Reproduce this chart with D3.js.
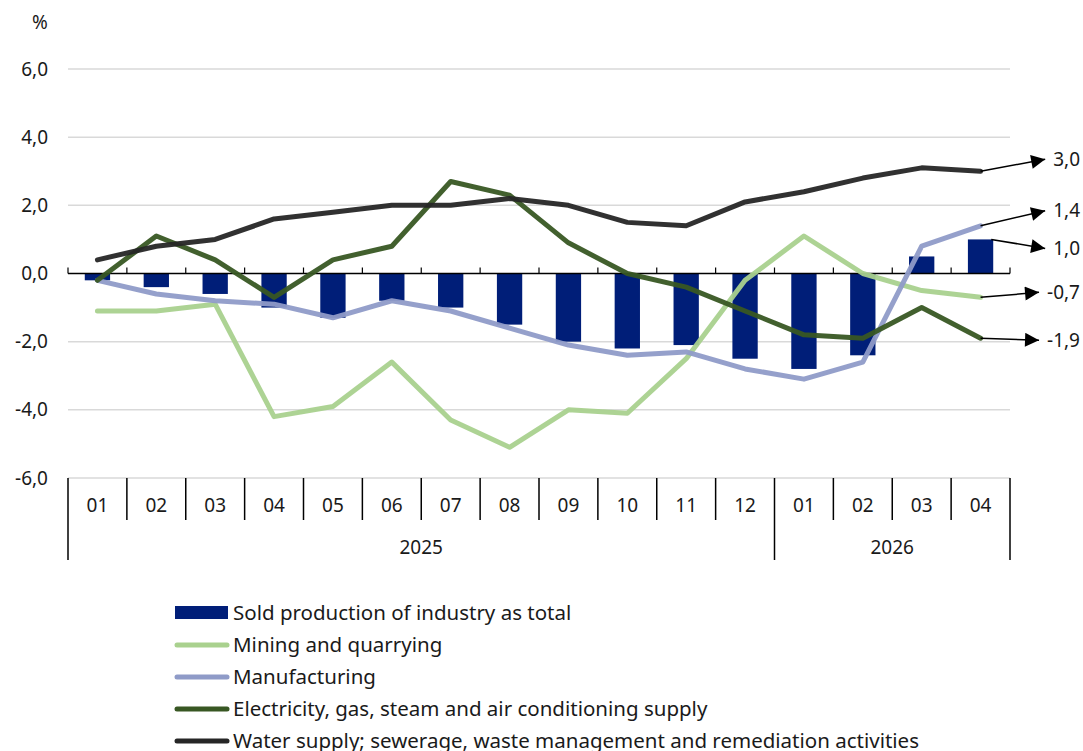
<!DOCTYPE html>
<html>
<head>
<meta charset="utf-8">
<script src="https://cdn.jsdelivr.net/npm/d3@7"></script>
<style>
  body { margin: 0; background: #fff; }
  svg text { font-family: "Noto Sans", sans-serif; fill: #1a1a1a; }
</style>
</head>
<body>
<script>
const months = ['01','02','03','04','05','06','07','08','09','10','11','12','01','02','03','04'];
const years = [{ label: '2025', from: 0, to: 11 }, { label: '2026', from: 12, to: 15 }];
const yTicks = [-6, -4, -2, 0, 2, 4, 6];

const totalProd   = [-0.2, -0.4, -0.6, -1.0, -1.3, -0.8, -1.0, -1.5, -2.0, -2.2, -2.1, -2.5, -2.8, -2.4, 0.5, 1.0];
const mining      = [-1.1, -1.1, -0.9, -4.2, -3.9, -2.6, -4.3, -5.1, -4.0, -4.1, -2.5, -0.2, 1.1, 0.0, -0.5, -0.7];
const manufact    = [-0.2, -0.6, -0.8, -0.9, -1.3, -0.8, -1.1, -1.6, -2.1, -2.4, -2.3, -2.8, -3.1, -2.6, 0.8, 1.4];
const electricity = [-0.2, 1.1, 0.4, -0.7, 0.4, 0.8, 2.7, 2.3, 0.9, 0.0, -0.4, -1.1, -1.8, -1.9, -1.0, -1.9];
const water       = [0.4, 0.8, 1.0, 1.6, 1.8, 2.0, 2.0, 2.2, 2.0, 1.5, 1.4, 2.1, 2.4, 2.8, 3.1, 3.0];

const barName = 'Sold production of industry as total';
const lineSeries = [
  { name: 'Mining and quarrying', values: mining, color: '#a9d18e' },
  { name: 'Manufacturing', values: manufact, color: '#8f9bc8' },
  { name: 'Electricity, gas, steam and air conditioning supply', values: electricity, color: '#385723' },
  { name: 'Water supply; sewerage, waste management and remediation activities', values: water, color: '#262626' }
];
const barColor = '#001e78';

const width = 1083, height = 751;
const plotL = 68, plotR = 1010, plotT = 69, plotB = 478;

const svg = d3.select('body').append('svg')
  .attr('width', width)
  .attr('height', height);

const x = d3.scaleBand().domain(d3.range(months.length)).range([plotL, plotR]).padding(0);
const y = d3.scaleLinear().domain([-6, 6]).range([plotB, plotT]);
const cx = i => x(i) + x.bandwidth() / 2;
const fmt = v => d3.format('.1f')(v).replace('.', ',').replace('−', '-');

// gridlines
svg.append('g').selectAll('line')
  .data(yTicks.filter(d => d !== 0))
  .enter().append('line')
    .attr('x1', plotL).attr('x2', plotR)
    .attr('y1', d => y(d)).attr('y2', d => y(d))
    .attr('stroke', '#d9d9d9').attr('stroke-width', 1.5);

// y labels
svg.append('g').selectAll('text')
  .data(yTicks)
  .enter().append('text')
    .attr('x', 48).attr('y', d => y(d))
    .attr('dy', '0.35em')
    .attr('text-anchor', 'end')
    .style('font-size', '19px')
    .text(d => fmt(d));

svg.append('text')
  .attr('x', 40).attr('y', 22)
  .attr('dy', '0.35em')
  .attr('text-anchor', 'middle')
  .style('font-size', '19px')
  .text('%');

// bars
const barW = x.bandwidth() * 0.43;
svg.append('g').selectAll('rect')
  .data(totalProd)
  .enter().append('rect')
    .attr('x', (d, i) => cx(i) - barW / 2)
    .attr('y', d => y(Math.max(0, d)))
    .attr('width', barW)
    .attr('height', d => Math.abs(y(d) - y(0)))
    .attr('fill', barColor);

// zero axis with small ticks
const bounds = d3.range(months.length + 1).map(i => i < months.length ? x(i) : plotR);
svg.append('line')
  .attr('x1', plotL).attr('x2', plotR)
  .attr('y1', y(0)).attr('y2', y(0))
  .attr('stroke', '#000').attr('stroke-width', 1.5);
svg.append('g').selectAll('line')
  .data(bounds)
  .enter().append('line')
    .attr('x1', d => d).attr('x2', d => d)
    .attr('y1', y(0)).attr('y2', y(0) - 6)
    .attr('stroke', '#000').attr('stroke-width', 1.2);

// lines
const line = d3.line().x((d, i) => cx(i)).y(d => y(d));
svg.append('g').selectAll('path')
  .data(lineSeries)
  .enter().append('path')
    .attr('d', d => line(d.values))
    .attr('fill', 'none')
    .attr('stroke', d => d.color)
    .attr('stroke-width', 5)
    .attr('stroke-linejoin', 'round')
    .attr('stroke-linecap', 'round')
    .attr('stroke-opacity', 0.95);

// category axis at bottom
const catAxis = svg.append('g');
const yearStarts = new Set(years.map(d => d.from));
catAxis.selectAll('line')
  .data(bounds)
  .enter().append('line')
    .attr('x1', d => d).attr('x2', d => d)
    .attr('y1', plotB)
    .attr('y2', (d, i) => (i === 0 || i === months.length || yearStarts.has(i)) ? 560 : 520)
    .attr('stroke', '#000').attr('stroke-width', 1.5);
catAxis.selectAll('text.month')
  .data(months)
  .enter().append('text')
    .attr('class', 'month')
    .attr('x', (d, i) => cx(i)).attr('y', 505)
    .attr('dy', '0.35em')
    .attr('text-anchor', 'middle')
    .style('font-size', '19px')
    .text(d => d);
catAxis.selectAll('text.year')
  .data(years)
  .enter().append('text')
    .attr('class', 'year')
    .attr('x', d => (x(d.from) + x(d.to) + x.bandwidth()) / 2).attr('y', 547)
    .attr('dy', '0.35em')
    .attr('text-anchor', 'middle')
    .style('font-size', '19px')
    .text(d => d.label);

// end-value annotations with arrows
const lastIdx = months.length - 1;
const annotations = [
  { value: water[lastIdx], fromY: y(water[lastIdx]), dy: -12 },
  { value: manufact[lastIdx], fromY: y(manufact[lastIdx]), dy: -15 },
  { value: totalProd[lastIdx], fromY: y(totalProd[lastIdx]), dy: 9, fromX: cx(lastIdx) + barW / 2 - 2 },
  { value: mining[lastIdx], fromY: y(mining[lastIdx]), dy: -5 },
  { value: electricity[lastIdx], fromY: y(electricity[lastIdx]), dy: 2 }
];
svg.append('defs').append('marker')
  .attr('id', 'arrow')
  .attr('viewBox', '0 0 10 10')
  .attr('refX', 10).attr('refY', 5)
  .attr('markerWidth', 18).attr('markerHeight', 14)
  .attr('markerUnits', 'userSpaceOnUse')
  .attr('orient', 'auto')
  .append('path')
    .attr('d', 'M0,0 L10,5 L0,10 Z')
    .attr('fill', '#000');

const ann = svg.append('g');
annotations.forEach(a => {
  const ly = a.fromY + a.dy;
  const t = ann.append('text')
    .attr('x', 1080).attr('y', ly)
    .attr('dy', '0.35em')
    .attr('text-anchor', 'end')
    .style('font-size', '19px')
    .text(fmt(a.value));
  const startX = 1080 - t.node().getComputedTextLength();
  ann.append('line')
    .attr('x1', a.fromX || cx(lastIdx)).attr('y1', a.fromY)
    .attr('x2', startX - 8).attr('y2', ly)
    .attr('stroke', '#000').attr('stroke-width', 1.5)
    .attr('marker-end', 'url(#arrow)');
});

// legend
const legendItems = [{ name: barName, type: 'bar', color: barColor }]
  .concat(lineSeries.map(d => ({ name: d.name, type: 'line', color: d.color })));
const legend = svg.append('g').attr('transform', 'translate(175, 613)');
const rows = legend.selectAll('g')
  .data(legendItems)
  .enter().append('g')
    .attr('transform', (d, i) => `translate(0, ${i * 32})`);
rows.filter(d => d.type === 'bar').append('rect')
  .attr('x', 0).attr('y', -7).attr('width', 53).attr('height', 13)
  .attr('fill', d => d.color);
rows.filter(d => d.type === 'line').append('line')
  .attr('x1', 2).attr('x2', 52).attr('y1', 0).attr('y2', 0)
  .attr('stroke', d => d.color).attr('stroke-width', 5)
  .attr('stroke-linecap', 'round');
rows.append('text')
  .attr('x', 58).attr('y', 0)
  .attr('dy', '0.35em')
  .style('font-size', '20.5px')
  .text(d => d.name);
</script>
</body>
</html>
